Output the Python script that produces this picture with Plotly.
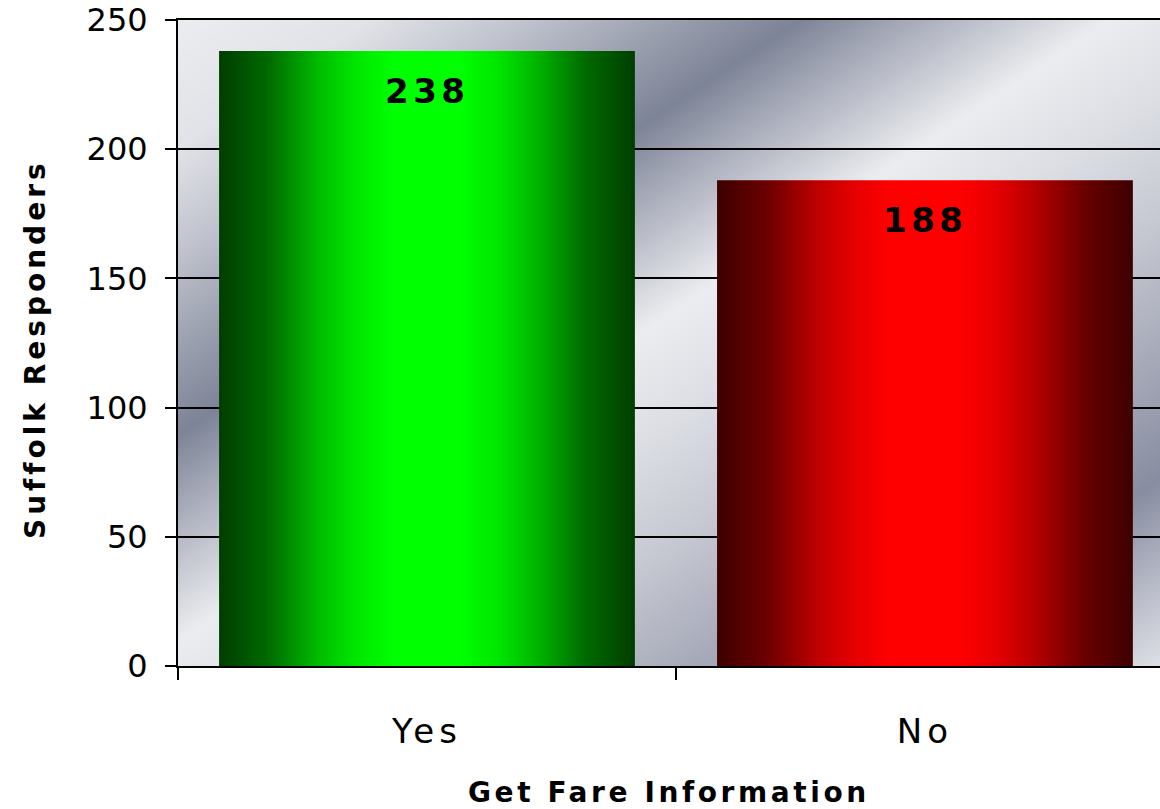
import base64
import struct
import zlib

import numpy as np
import plotly.graph_objects as go

# ---- data ----
categories = ["Yes", "No"]
responders = [238, 188]
y_ticks = [0, 50, 100, 150, 200, 250]
x_title = "Get Fare Information"
y_title = "Suffolk Responders"

# ---- styling ----
FONT = "DejaVu Sans"
W, H = 1160, 809
M_L, M_R, M_T, M_B = 178, 0, 20, 143
PW, PH = W - M_L - M_R, H - M_T - M_B
BAR_WIDTH = 0.835
X_RANGE = [-0.5, 1.472]

ramp_pos = [0.0, 0.12, 0.24, 0.33, 0.42, 0.58, 0.67, 0.76, 0.88, 1.0]
ramp_lvl = [0.24, 0.42, 0.74, 0.90, 1.0, 1.0, 0.90, 0.72, 0.42, 0.24]


def ramp(channel):
    scale = []
    for p, lvl in zip(ramp_pos, ramp_lvl):
        rgb = [0, 0, 0]
        rgb[channel] = int(round(255 * lvl))
        scale.append([p, "rgb(%d,%d,%d)" % tuple(rgb)])
    return scale


bar_scales = [ramp(1), ramp(0)]  # green for Yes, red for No


# ---- brushed chrome backdrop for the plot area ----
def chrome_backdrop():
    stops_u = [208, 400, 555, 700, 830, 950, 1140, 1300, 1470, 1600, 1880, 2050, 2160]
    stops_c = np.array([
        (236, 237, 240), (226, 227, 232), (193, 196, 206), (156, 161, 176),
        (126, 132, 151), (170, 174, 188), (236, 237, 240), (221, 223, 229),
        (201, 203, 212), (181, 184, 196), (136, 141, 161), (190, 193, 205),
        (222, 224, 230)], dtype=float)
    xs, ys = np.meshgrid(np.arange(PW) + M_L + 0.5, np.arange(PH) + M_T + 0.5)
    u = xs + 1.5 * ys
    img = np.stack([np.interp(u, stops_u, stops_c[:, k]) for k in range(3)], -1)
    img = np.clip(img, 0, 255).astype(np.uint8)

    def chunk(tag, data):
        return (struct.pack(">I", len(data)) + tag + data
                + struct.pack(">I", zlib.crc32(tag + data) & 0xFFFFFFFF))

    raw = b"".join(b"\x00" + img[r].tobytes() for r in range(img.shape[0]))
    png = (b"\x89PNG\r\n\x1a\n"
           + chunk(b"IHDR", struct.pack(">IIBBBBB", PW, PH, 8, 2, 0, 0, 0))
           + chunk(b"IDAT", zlib.compress(raw, 9))
           + chunk(b"IEND", b""))
    return "data:image/png;base64," + base64.b64encode(png).decode()


def spaced(text, px):
    return '<span style="letter-spacing:%.1fpx">%s</span>' % (px, text)


def paper_x(px):
    return (px - M_L) / PW


def paper_y(py):
    return (M_T + PH - py) / PH


fig = go.Figure()

for i, (value, scale) in enumerate(zip(responders, bar_scales)):
    x0, x1 = i - BAR_WIDTH / 2, i + BAR_WIDTH / 2
    fig.add_trace(go.Scatter(
        x=[x0, x1, x1, x0, x0],
        y=[0, 0, value, value, 0],
        mode="none",
        fill="toself",
        fillgradient=dict(type="horizontal", colorscale=scale),
        hoverinfo="skip",
        showlegend=False,
    ))
    fig.add_annotation(
        x=i, y=value, xref="x", yref="y",
        text=spaced("<b>%d</b>" % value, 4.5),
        showarrow=False, yanchor="middle", yshift=-40,
        font=dict(family=FONT, size=34, color="black"),
    )

fig.add_layout_image(dict(
    source=chrome_backdrop(), xref="paper", yref="paper",
    x=0, y=1, sizex=1, sizey=1, xanchor="left", yanchor="top",
    sizing="stretch", layer="below",
))

# axis titles
fig.add_annotation(
    x=0.5, y=paper_y(792), xref="paper", yref="paper",
    text=spaced("<b>%s</b>" % x_title, 3.6), showarrow=False,
    xanchor="center", yanchor="middle",
    font=dict(family=FONT, size=28, color="black"),
)
fig.add_annotation(
    x=paper_x(35), y=paper_y(349), xref="paper", yref="paper",
    text=spaced("<b>%s</b>" % y_title, 4), showarrow=False, textangle=-90,
    xanchor="center", yanchor="middle",
    font=dict(family=FONT, size=28, color="black"),
)

fig.update_layout(
    width=W, height=H,
    margin=dict(l=M_L, r=M_R, t=M_T, b=M_B, pad=0),
    paper_bgcolor="white",
    plot_bgcolor="rgba(0,0,0,0)",
    font=dict(family=FONT, color="black"),
    xaxis=dict(
        range=X_RANGE, tickmode="array", tickvals=list(range(len(categories))),
        ticktext=[spaced(c, 5) for c in categories], ticks="",
        tickfont=dict(family=FONT, size=34, color="black"),
        ticklabelstandoff=34,
        showline=True, linecolor="black", linewidth=2, mirror=True,
        showgrid=False, zeroline=False, fixedrange=True,
        minor=dict(tickmode="array", tickvals=[-0.5, 0.5, 1.5], ticks="outside",
                   ticklen=12, tickwidth=2, tickcolor="black", showgrid=False),
    ),
    yaxis=dict(
        range=[0, 250], tickmode="array", tickvals=y_ticks,
        ticks="outside", ticklen=11, tickwidth=2, tickcolor="black",
        tickfont=dict(family=FONT, size=32, color="black"),
        ticklabelstandoff=11,
        showline=True, linecolor="black", linewidth=2,
        showgrid=True, gridcolor="black", gridwidth=2,
        zeroline=False, fixedrange=True,
    ),
)

fig.write_html("out.html", config={"displayModeBar": False})
